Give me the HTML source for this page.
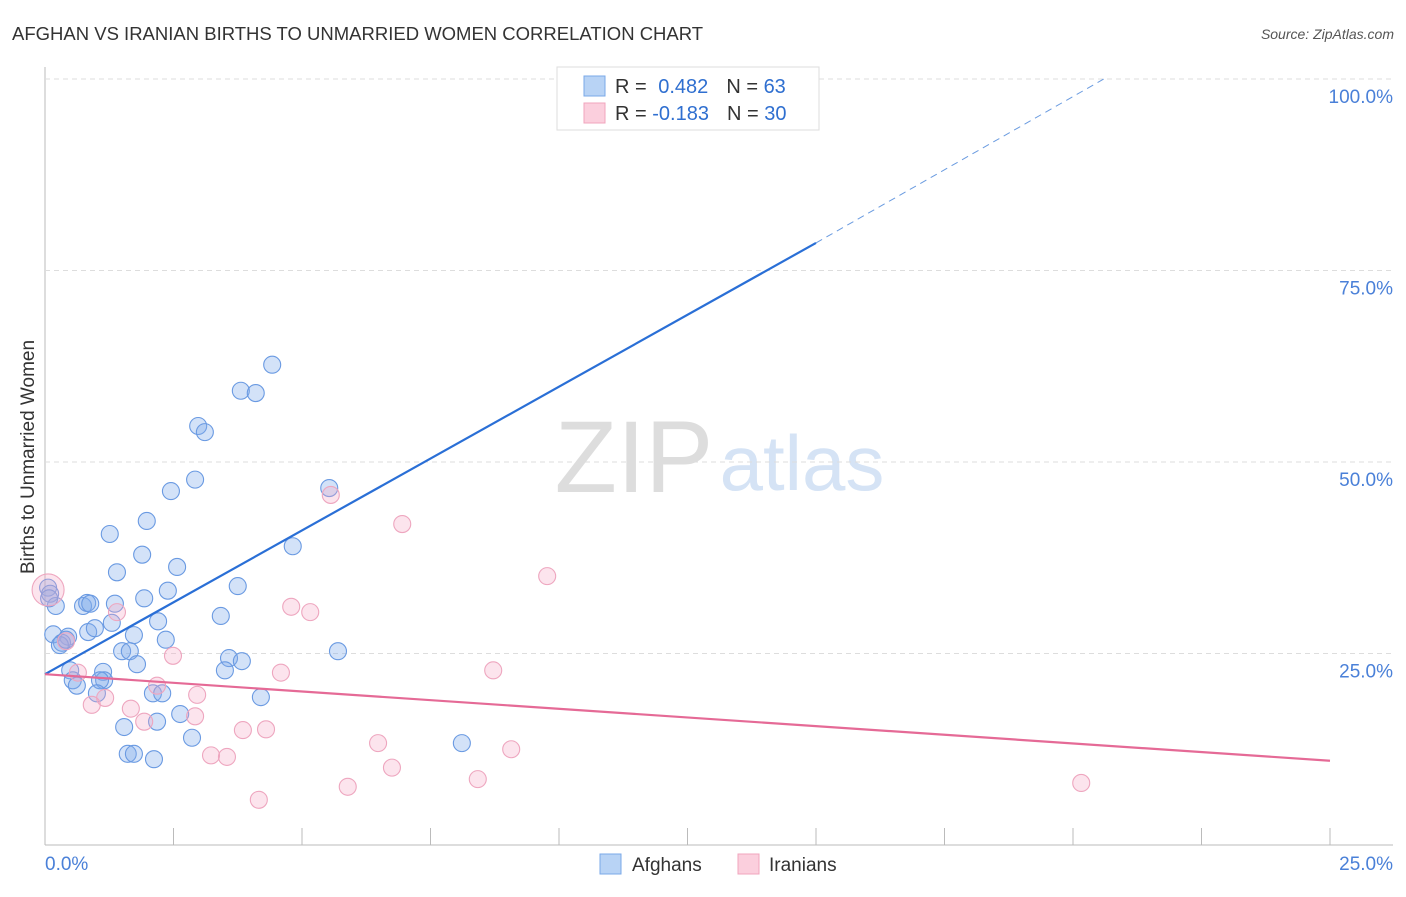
<!DOCTYPE html>
<html><head><meta charset="utf-8"><style>
body{margin:0;background:#fff;font-family:"Liberation Sans",sans-serif}
svg text{font-family:"Liberation Sans",sans-serif}
</style></head><body>
<svg id="c" width="1406" height="892">
<text x="12" y="40" font-size="18.5" fill="#333">AFGHAN VS IRANIAN BIRTHS TO UNMARRIED WOMEN CORRELATION CHART</text>
<text x="1394" y="39" font-size="14" fill="#555" font-style="italic" text-anchor="end">Source: ZipAtlas.com</text>
<text x="34" y="457" font-size="19" fill="#333" text-anchor="middle" transform="rotate(-90 34 457)">Births to Unmarried Women</text>
<g><text x="634" y="492" font-size="102" fill="#ddd" font-family="Liberation Serif" text-anchor="middle">ZIP</text><text x="802" y="490" font-size="78" fill="#d5e3f5" text-anchor="middle">atlas</text></g>
<g id="grid"></g><g id="marks"></g>
<g>
<rect x="557" y="67" width="262" height="63" fill="#fff" stroke="#ddd"/>
<rect x="584" y="76" width="21" height="20" fill="#b8d3f5" stroke="#7aa8e8"/>
<rect x="584" y="103" width="21" height="20" fill="#fbcfdd" stroke="#f0a4bd"/>
<text x="615" y="93" font-size="20" fill="#333">R = <tspan fill="#2f6fd0" dx="6">0.482</tspan><tspan dx="18" fill="#333">N = </tspan><tspan fill="#2f6fd0">63</tspan></text>
<text x="615" y="120" font-size="20" fill="#333">R = <tspan fill="#2f6fd0">-0.183</tspan><tspan dx="18" fill="#333">N = </tspan><tspan fill="#2f6fd0">30</tspan></text>
</g>
<g>
<rect x="600" y="854" width="21" height="20" fill="#b8d3f5" stroke="#7aa8e8"/><text x="632" y="871" font-size="19" fill="#333">Afghans</text>
<rect x="738" y="854" width="21" height="20" fill="#fbcfdd" stroke="#f0a4bd"/><text x="769" y="871" font-size="19" fill="#333">Iranians</text>
</g>
</svg>
<script>
const yTicks=[25,50,75,100];
const yTickLabels=["25.0%","50.0%","75.0%","100.0%"];
const xTickLabels=["0.0%","25.0%"];
const afghanX=[10.39,4.42,3.81,4.10,2.98,3.11,2.92,2.45,5.53,1.98,1.26,4.82,1.89,1.40,2.57,3.75,2.39,1.93,0.06,0.10,0.21,0.74,0.82,0.88,1.36,3.42,2.20,1.30,0.16,0.45,0.84,0.97,1.73,2.35,0.33,0.29,1.50,1.65,3.58,3.83,5.70,1.79,3.50,0.49,1.13,1.15,0.54,1.07,0.62,1.01,2.10,2.28,4.20,2.63,2.18,1.54,2.86,8.11,1.61,1.73,2.12,0.08,0.41];
const afghanY=[100,62.7,59.3,59.0,54.7,53.9,47.7,46.2,46.6,42.3,40.6,39.0,37.9,35.6,36.3,33.8,33.2,32.2,33.6,32.8,31.2,31.2,31.6,31.5,31.5,29.9,29.2,29.0,27.5,27.2,27.8,28.3,27.4,26.8,26.4,26.1,25.3,25.3,24.4,24.0,25.3,23.6,22.8,22.8,22.6,21.5,21.5,21.5,20.8,19.8,19.8,19.8,19.3,17.1,16.1,15.4,14.0,13.3,11.9,11.9,11.2,32.2,26.8];
const iranX=[0.06,5.56,6.95,9.77,4.79,5.16,1.40,0.41,2.49,8.72,4.59,0.64,2.18,2.96,1.17,0.91,1.67,2.92,1.93,3.85,4.30,6.48,9.07,3.23,3.54,6.75,8.42,5.89,4.16,20.16];
const iranY=[33.3,45.7,41.9,35.1,31.1,30.4,30.4,26.6,24.7,22.8,22.5,22.5,20.8,19.6,19.2,18.3,17.8,16.8,16.1,15.0,15.1,13.3,12.5,11.7,11.5,10.1,8.6,7.6,5.9,8.1];
const afghanTrend=[[0,22.3],[15,78.6],[20.6,100]];
const iranTrend=[[0,22.3],[25,11.0]];
const X=v=>45+v*51.4, Y=v=>845-v*7.66;
const NS="http://www.w3.org/2000/svg";
const grid=document.getElementById('grid'), marks=document.getElementById('marks');
function mk(p,tag,a){const e=document.createElementNS(NS,tag);for(const k in a)e.setAttribute(k,a[k]);p.appendChild(e);return e;}
const ax=mk(grid,'line',{x1:45,y1:67,x2:45,y2:845,stroke:'#bbb'});


const bx=mk(grid,'line',{x1:45,y1:845,x2:1393,y2:845,stroke:'#bbb'});


yTicks.forEach((t,i)=>{
 const g=mk(grid,'line',{x1:45,x2:1393,y1:Y(t),y2:Y(t),stroke:'#ddd','stroke-dasharray':'5,4'});
 
 
 const tx=mk(grid,'text',{x:1393,y:Y(t)+24,'font-size':19,fill:'#4a80d8','text-anchor':'end'});
 tx.textContent=yTickLabels[i];
 
 
});
for(let i=1;i<=10;i++){const l=mk(grid,'line',{x1:X(i*2.5),x2:X(i*2.5),y1:828,y2:845,stroke:'#bbb'});
 
 }
[[0,'start',45],[25,'end',1393]].forEach((d,i)=>{const t=mk(grid,'text',{x:d[2],y:870,'font-size':19,fill:'#4a80d8','text-anchor':d[1]});t.textContent=xTickLabels[i];
 
 });
function dots(xs,ys,fill,stroke,name){xs.forEach((x,i)=>{const c=mk(marks,'circle',{cx:X(x),cy:Y(ys[i]),r:(name=='iranian-point'&&i==0)?16:8.5,fill:fill,stroke:stroke,'stroke-width':1.1});
 
 });}
dots(afghanX,afghanY,'rgba(130,172,235,0.35)','#6a9ae2','afghan-point');
dots(iranX,iranY,'rgba(245,165,195,0.3)','#eea6bf','iranian-point');
const l1=mk(marks,'line',{x1:X(afghanTrend[0][0]),y1:Y(afghanTrend[0][1]),x2:X(afghanTrend[1][0]),y2:Y(afghanTrend[1][1]),stroke:'#2a6fd6','stroke-width':2.2});


const l2=mk(marks,'line',{x1:X(afghanTrend[1][0]),y1:Y(afghanTrend[1][1]),x2:X(afghanTrend[2][0]),y2:Y(afghanTrend[2][1]),stroke:'#6a9be0','stroke-width':1,'stroke-dasharray':'7,5'});


const l3=mk(marks,'line',{x1:X(iranTrend[0][0]),y1:Y(iranTrend[0][1]),x2:X(iranTrend[1][0]),y2:Y(iranTrend[1][1]),stroke:'#e56a96','stroke-width':2.2});


</script>
</body></html>
